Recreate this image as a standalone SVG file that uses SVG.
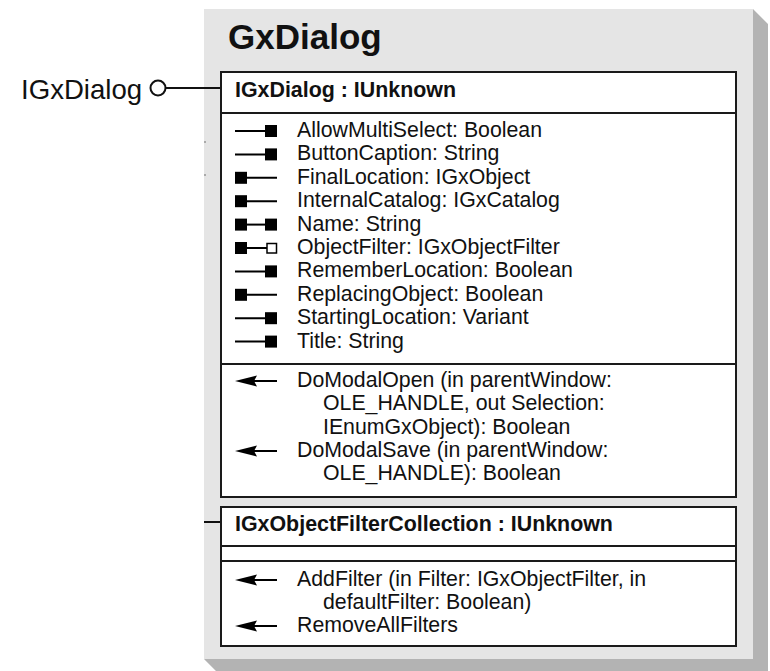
<svg xmlns="http://www.w3.org/2000/svg" width="770" height="671" viewBox="0 0 770 671">
  <style>
    .t { font-family: "Liberation Sans", Arial, sans-serif; fill: #111; }
    .title { font-size: 35px; font-weight: bold; }
    .lbl { font-size: 27.6px; }
    .hdr { font-size: 21.4px; font-weight: bold; }
    .row { font-size: 21.3px; }
    .box { fill: #fff; stroke: #1a1a1a; stroke-width: 2; }
    .div { stroke: #1a1a1a; stroke-width: 2; }
    .ic { stroke: #000; stroke-width: 2; fill: none; }
    .wire { stroke: #111; stroke-width: 2; fill: none; }
  </style>
  <defs>
    <!-- member icons: origin at the left end of the stub, vertically centred -->
    <g id="get"><line class="ic" x1="0" y1="0" x2="36" y2="0"/><rect x="30" y="-6" width="12" height="12" fill="#000"/></g>
    <g id="put"><line class="ic" x1="6" y1="0" x2="42" y2="0"/><rect x="0" y="-6" width="12" height="12" fill="#000"/></g>
    <g id="getput"><line class="ic" x1="6" y1="0" x2="36" y2="0"/><rect x="0" y="-6" width="12" height="12" fill="#000"/><rect x="30" y="-6" width="12" height="12" fill="#000"/></g>
    <g id="putref"><line class="ic" x1="6" y1="0" x2="32" y2="0"/><rect x="0" y="-6" width="12" height="12" fill="#000"/><rect x="32" y="-4.5" width="9.5" height="9.5" fill="#fff" stroke="#000" stroke-width="1.5"/></g>
    <g id="method"><line class="ic" x1="14" y1="0" x2="42" y2="0"/><polygon points="0,0 22,-5.5 19,0 22,5.5" fill="#000"/></g>
  </defs>

  <!-- coclass frame with drop shadow -->
  <g id="GxDialog">
    <polygon points="753,9 768,24 768,674 219,674 204,659 753,659" fill="#b3b3b3"/>
    <rect x="204" y="9" width="549" height="650" fill="#e5e5e5"/>
    <text class="t title" x="228" y="49">GxDialog</text>
    <rect x="204" y="141" width="2" height="2" fill="#aaa"/>
    <rect x="204" y="174" width="2" height="2" fill="#aaa"/>
  </g>

  <!-- connectors -->
  <g id="connectors">
    <circle class="wire" cx="158" cy="88" r="7.5" fill="#fff" stroke-width="1.6"/>
    <line class="wire" x1="165.5" y1="88" x2="221" y2="88"/>
    <line class="wire" x1="204" y1="522" x2="221" y2="522"/>
  </g>

  <g id="IGxDialog-label">
    <text class="t lbl" x="21" y="99">IGxDialog</text>
  </g>

  <!-- IGxDialog interface -->
  <g id="IGxDialog">
    <rect class="box" x="221" y="72" width="515" height="425"/>
    <line class="div" x1="221" y1="113" x2="736" y2="113"/>
    <line class="div" x1="221" y1="364" x2="736" y2="364"/>
    <text class="t hdr" x="235" y="97">IGxDialog : IUnknown</text>

    <use href="#get" x="235" y="131"/>
    <use href="#get" x="235" y="154.4"/>
    <use href="#put" x="235" y="177.8"/>
    <use href="#put" x="235" y="201.2"/>
    <use href="#getput" x="235" y="224.6"/>
    <use href="#putref" x="235" y="248"/>
    <use href="#get" x="235" y="271.4"/>
    <use href="#put" x="235" y="294.8"/>
    <use href="#get" x="235" y="318.2"/>
    <use href="#get" x="235" y="341.6"/>

    <text class="t row" x="297" y="137">AllowMultiSelect: Boolean</text>
    <text class="t row" x="297" y="160.4">ButtonCaption: String</text>
    <text class="t row" x="297" y="183.8">FinalLocation: IGxObject</text>
    <text class="t row" x="297" y="207.2">InternalCatalog: IGxCatalog</text>
    <text class="t row" x="297" y="230.6">Name: String</text>
    <text class="t row" x="297" y="254">ObjectFilter: IGxObjectFilter</text>
    <text class="t row" x="297" y="277.4">RememberLocation: Boolean</text>
    <text class="t row" x="297" y="300.8">ReplacingObject: Boolean</text>
    <text class="t row" x="297" y="324.2">StartingLocation: Variant</text>
    <text class="t row" x="297" y="347.6">Title: String</text>

    <use href="#method" x="235" y="381"/>
    <use href="#method" x="235" y="451"/>
    <text class="t row" x="297" y="387">DoModalOpen (in parentWindow:</text>
    <text class="t row" x="323" y="410.3">OLE_HANDLE, out Selection:</text>
    <text class="t row" x="323" y="433.6">IEnumGxObject): Boolean</text>
    <text class="t row" x="297" y="457">DoModalSave (in parentWindow:</text>
    <text class="t row" x="323" y="480.3">OLE_HANDLE): Boolean</text>
  </g>

  <!-- IGxObjectFilterCollection interface -->
  <g id="IGxObjectFilterCollection">
    <rect class="box" x="221" y="507" width="515" height="139"/>
    <line class="div" x1="221" y1="546" x2="736" y2="546"/>
    <line class="div" x1="221" y1="561" x2="736" y2="561"/>
    <text class="t hdr" x="235" y="531">IGxObjectFilterCollection : IUnknown</text>
    <use href="#method" x="235" y="580"/>
    <use href="#method" x="235" y="626"/>
    <text class="t row" x="297" y="586">AddFilter (in Filter: IGxObjectFilter, in</text>
    <text class="t row" x="323" y="609.3">defaultFilter: Boolean)</text>
    <text class="t row" x="297" y="632">RemoveAllFilters</text>
  </g>
</svg>
